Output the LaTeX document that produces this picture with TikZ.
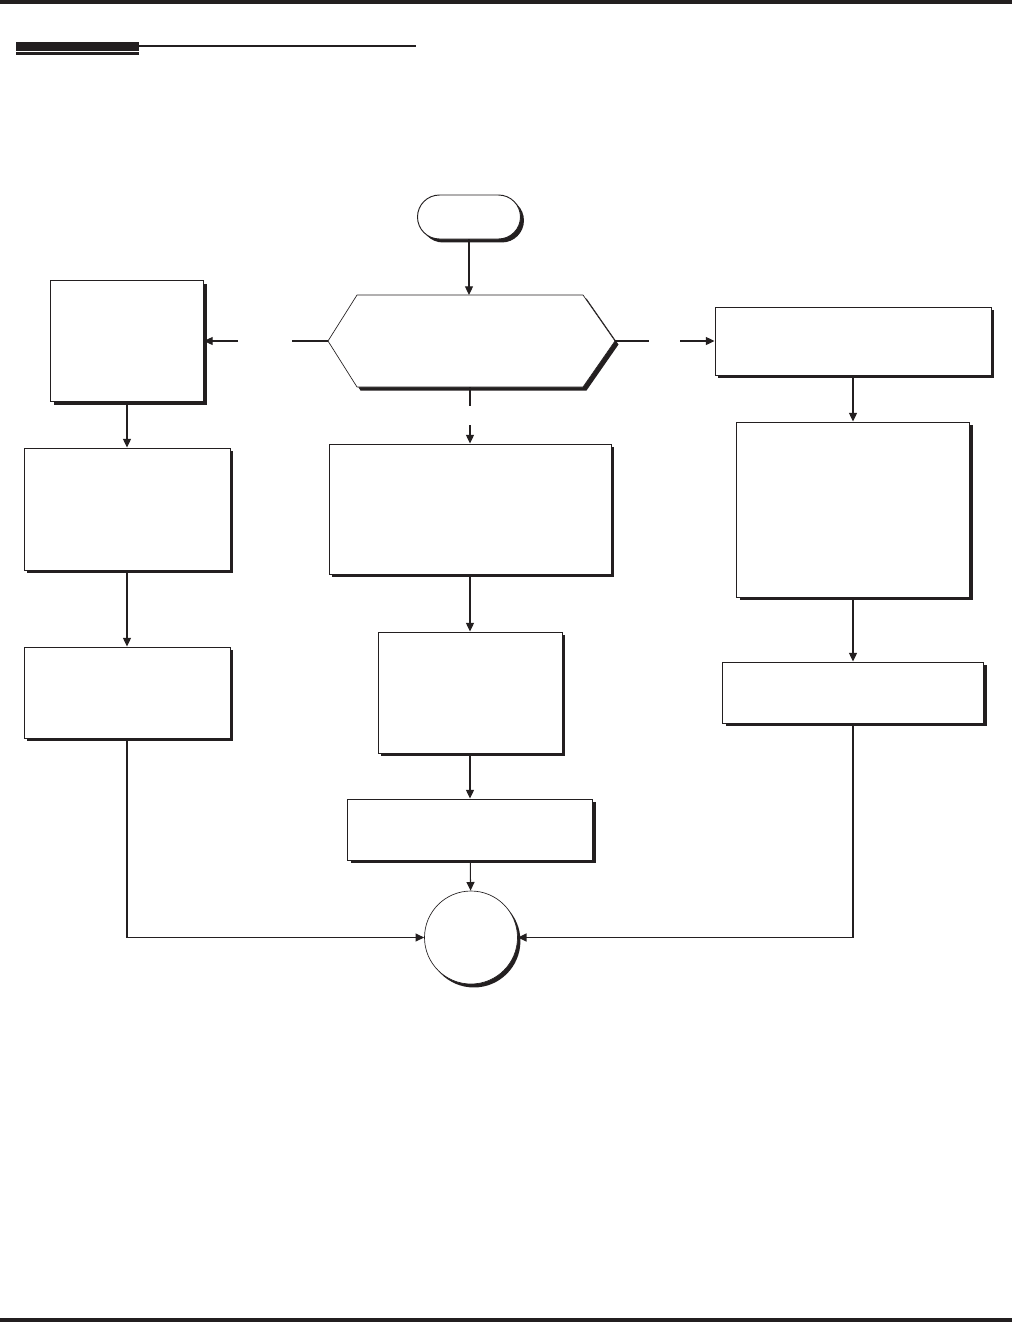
\documentclass[tikz,border=0pt]{standalone}
\usetikzlibrary{arrows.meta,shadows}
\definecolor{ink}{RGB}{35,31,32}
\begin{document}
\begin{tikzpicture}[x=0.75pt,y=-0.75pt,
  boxstyle/.style={rectangle,draw=ink,line width=0.7pt,fill=white,inner sep=0pt,
    drop shadow={shadow xshift=2.6pt,shadow yshift=-2.6pt,fill=ink,opacity=1}},
  termstyle/.style={boxstyle,rounded corners=16.5pt},
  endstyle/.style={circle,draw=ink,line width=0.5pt,fill=white,inner sep=0pt,minimum size=69.75pt,
    drop shadow={shadow xshift=2.2pt,shadow yshift=-2.6pt,fill=ink,opacity=1}},
  conn/.style={draw=ink,line width=0.8pt},
  arr/.style={conn,-{Triangle[length=6.5pt,width=6pt]}}]
\useasboundingbox (0,0) rectangle (1012,1322);
% header and footer rules
\fill[ink] (0,0) rectangle (1012,3.5);
\fill[ink] (16,42) rectangle (139,50.5);
\fill[ink] (16,52) rectangle (139,54.5);
\fill[ink] (139,44.5) rectangle (416,46.5);
\fill[ink] (0,1318) rectangle (1012,1322);
% start
\node[termstyle,minimum width=77.25pt,minimum height=33pt] (S) at (469,217) {};
% decision hexagon
\coordinate (Dw) at (328,341);
\coordinate (Dnw) at (357,295);
\coordinate (Dne) at (583,295);
\coordinate (De) at (615,341);
\coordinate (Dse) at (583,387);
\coordinate (Dsw) at (357,387);
\coordinate (Dn) at (469,295);
\coordinate (Ds) at (470,387);
\fill[ink] ([shift={(3.5,3.5)}]Dw) -- ([shift={(3.5,3.5)}]Dnw) -- ([shift={(3.5,3.5)}]Dne) -- ([shift={(3.5,3.5)}]De) -- ([shift={(3.5,3.5)}]Dse) -- ([shift={(3.5,3.5)}]Dsw) -- cycle;
\filldraw[fill=white,draw=ink,line width=0.5pt] (Dw) -- (Dnw) -- (Dne) -- (De) -- (Dse) -- (Dsw) -- cycle;
% left column
\node[boxstyle,minimum width=114.75pt,minimum height=90.75pt] (L1) at (127,341) {};
\node[boxstyle,minimum width=154.5pt,minimum height=91.5pt] (L2) at (127,509) {};
\node[boxstyle,minimum width=154.5pt,minimum height=68.25pt] (L3) at (127,692.5) {};
% middle column
\node[boxstyle,minimum width=211.5pt,minimum height=97.5pt] (M1) at (470,509) {};
\node[boxstyle,minimum width=138pt,minimum height=90.75pt] (M2) at (470,692.5) {};
\node[boxstyle,minimum width=183.75pt,minimum height=45.75pt] (M3) at (470,829.5) {};
% right column
\node[boxstyle,minimum width=207pt,minimum height=51pt] (R1) at (853,341) {};
\node[boxstyle,minimum width=174.75pt,minimum height=131.25pt] (R2) at (853,509.5) {};
\node[boxstyle,minimum width=195.75pt,minimum height=45.75pt] (R3) at (853,692.5) {};
% end
\node[endstyle] (E) at (471,937.5) {};
% gap coordinates
\coordinate (gl1) at (292,341);
\coordinate (gl2) at (238,341);
\coordinate (gr1) at (649,341);
\coordinate (gr2) at (680,341);
\coordinate (gd1) at (470,406);
\coordinate (gd2) at (470,425);
% connectors
\draw[arr] (S) -- (Dn);
\draw[conn] (Dw) -- (gl1);
\draw[arr] (gl2) -- (L1.east);
\draw[conn] (De) -- (gr1);
\draw[arr] (gr2) -- (R1.west);
\draw[conn] (Ds) -- (gd1);
\draw[arr] (gd2) -- (M1.north);
\draw[arr] (L1) -- (L2);
\draw[arr] (L2) -- (L3);
\draw[arr] (M1) -- (M2);
\draw[arr] (M2) -- (M3);
\draw[arr] (M3) -- (E);
\draw[arr] (R1) -- (R2);
\draw[arr] (R2) -- (R3);
\draw[arr] (L3.south) |- (E.west);
\draw[arr] (R3.south) |- (E.east);
\end{tikzpicture}
\end{document}
